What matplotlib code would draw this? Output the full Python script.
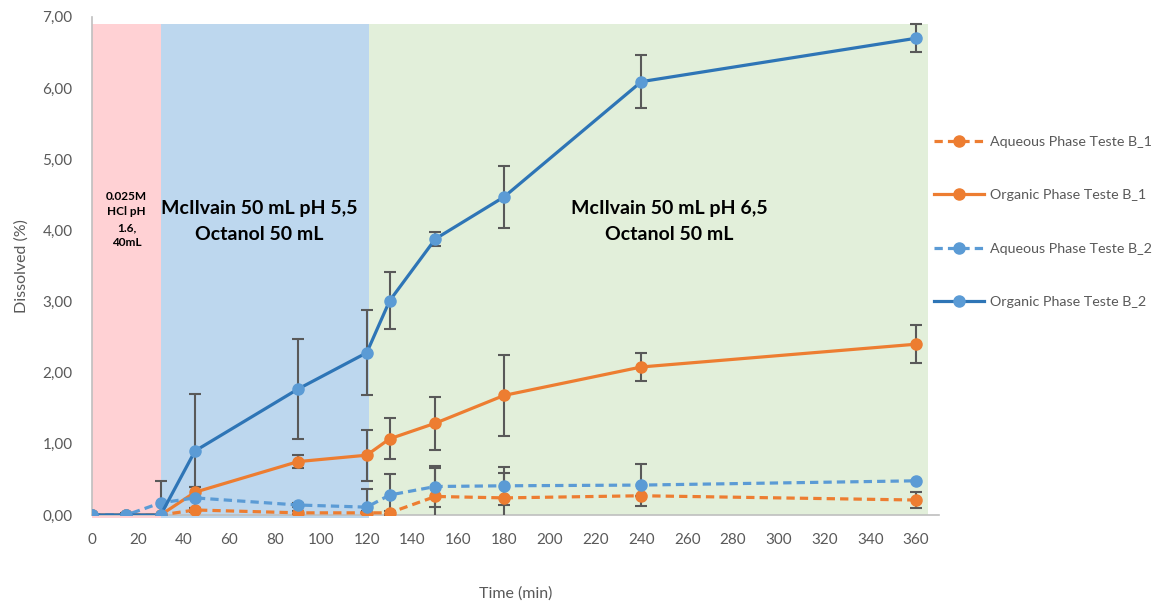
import matplotlib
matplotlib.use("Agg")
import matplotlib.pyplot as plt
from matplotlib.patches import Rectangle
from matplotlib.ticker import FuncFormatter

# time points (min)
time = [0, 15, 30, 45, 90, 120, 130, 150, 180, 240, 360]

# dissolved (%) and error bars
aq_b1 = [0, 0, 0, 0.07, 0.03, 0.03, 0.03, 0.26, 0.24, 0.27, 0.21]
aq_b1_err = [0, 0, 0, 0.03, 0.02, 0.02, 0.02, 0.40, 0.35, 0.0, 0.11]
org_b1 = [0, 0, 0, 0.32, 0.75, 0.84, 1.07, 1.29, 1.68, 2.08, 2.40]
org_b1_err = [0, 0, 0, 0.07, 0.09, 0.36, 0.29, 0.37, 0.57, 0.20, 0.27]
aq_b2 = [0, 0, 0.17, 0.24, 0.14, 0.11, 0.28, 0.40, 0.41, 0.42, 0.48]
aq_b2_err = [0, 0.03, 0.31, 0.15, 0.03, 0.26, 0.30, 0.29, 0.27, 0.30, 0.0]
org_b2 = [0, 0, 0, 0.90, 1.77, 2.28, 3.01, 3.88, 4.47, 6.09, 6.70]
org_b2_err = [0, 0, 0, 0.80, 0.70, 0.60, 0.40, 0.10, 0.44, 0.37, 0.20]

# medium phases
phase_start = [0, 30, 121]
phase_end = [30, 121, 365]
phase_top = 6.9
phase_colors = ["#FFD1D4", "#BDD7EE", "#E2EFDA"]
phase_labels = ["0.025M\nHCl pH\n1.6,\n40mL",
                "McIlvain 50 mL pH 5,5\nOctanol 50 mL",
                "McIlvain 50 mL pH 6,5\nOctanol 50 mL"]
phase_label_x = [15, 73, 252]

FONT = ["Lato", "DejaVu Sans"]
GREY = "#595959"
ORANGE = "#ED7D31"
BLUE = "#5B9BD5"
DARK_BLUE = "#2E75B6"

plt.rcParams["font.family"] = FONT

fig = plt.figure(figsize=(11.65, 6.03), dpi=100)
ax = fig.add_axes([0.079, 0.146, 0.727, 0.826])

# shaded phases
for i in range(3):
    bottom = -0.04 if i < 2 else 0
    ax.add_patch(Rectangle((phase_start[i], bottom), phase_end[i] - phase_start[i],
                           phase_top - bottom, facecolor=phase_colors[i],
                           edgecolor="none", zorder=0, clip_on=False))

ax.text(phase_label_x[0], 4.15, phase_labels[0], ha="center", va="center",
        fontsize=8.5, fontweight="bold", linespacing=1.5, color="black", zorder=1)
for i in (1, 2):
    ax.text(phase_label_x[i], 4.12, phase_labels[i], ha="center", va="center",
            fontsize=14, fontweight="bold", linespacing=1.65, color="black", zorder=1)

series = [
    (aq_b1, aq_b1_err, ORANGE, ORANGE, "--", "Aqueous Phase Teste B_1"),
    (org_b1, org_b1_err, ORANGE, ORANGE, "-", "Organic Phase Teste B_1"),
    (aq_b2, aq_b2_err, BLUE, BLUE, "--", "Aqueous Phase Teste B_2"),
    (org_b2, org_b2_err, DARK_BLUE, BLUE, "-", "Organic Phase Teste B_2"),
]

for k, (vals, errs, lc, mc, ls, label) in enumerate(series):
    ax.errorbar(time, vals, yerr=errs, fmt="none", ecolor=GREY, elinewidth=1.5,
                capsize=4, capthick=1.5, zorder=2 + k * 0.1)
for k, (vals, errs, lc, mc, ls, label) in enumerate(series):
    line, = ax.plot(time, vals, ls, color=lc, lw=2.3, marker="o", ms=8,
                    markerfacecolor=mc, markeredgecolor=mc, label=label,
                    zorder=3 + k * 0.1)
    if ls == "--":
        line.set_dashes((2.6, 1.6))

ax.set_xlim(0, 370)
ax.set_ylim(0, 7)
ax.set_xticks(range(0, 361, 20))
ax.set_yticks(range(0, 8))
ax.yaxis.set_major_formatter(FuncFormatter(lambda v, p: f"{v:.2f}".replace(".", ",")))
ax.tick_params(length=0, labelsize=11, labelcolor=GREY)
ax.tick_params(axis="x", pad=13)
ax.tick_params(axis="y", pad=14)

for s in ("top", "right"):
    ax.spines[s].set_visible(False)
for s in ("left", "bottom"):
    ax.spines[s].set_color("#BFBFBF")
    ax.spines[s].set_linewidth(1.2)
    ax.spines[s].set_zorder(1)

ax.set_xlabel("Time (min)", fontsize=11.5, color=GREY, labelpad=28)
ax.set_ylabel("Dissolved (%)", fontsize=11.5, color=GREY, labelpad=10)

ax.legend(loc="upper left", bbox_to_anchor=(0.791, 0.796), bbox_transform=fig.transFigure,
          frameon=False, fontsize=10.3, labelcolor=GREY, handlelength=3.5,
          labelspacing=2.9, handletextpad=0.4)

fig.savefig("out.png", dpi=100)
